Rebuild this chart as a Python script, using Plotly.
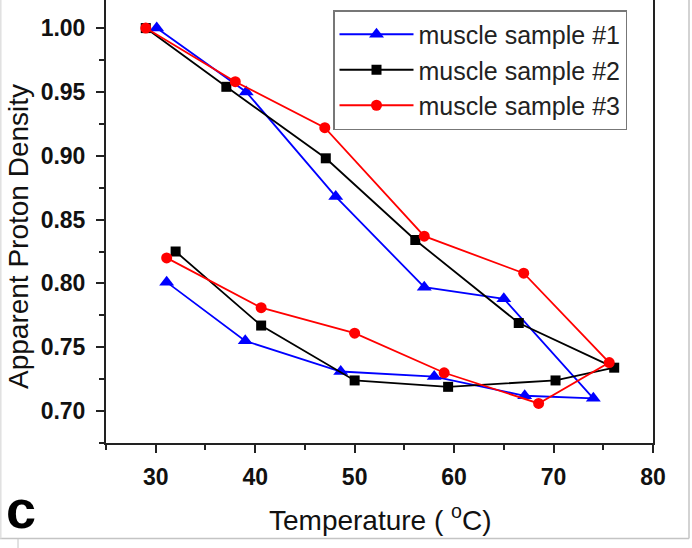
import plotly.graph_objects as go

# Sample #1 (blue triangles): heating then cooling
s1_temp = [30.1, 39.1, 48.1, 57.0, 65.0, 74.0, 67.1, 58.0, 48.6, 39.0, 31.1]
s1_dens = [1.000, 0.950, 0.868, 0.797, 0.788, 0.710, 0.712, 0.727, 0.731, 0.755, 0.801]

# Sample #2 (black squares)
s2_temp = [29.0, 37.1, 47.1, 56.1, 66.5, 76.1, 70.2, 59.4, 50.0, 40.6, 32.0]
s2_dens = [1.000, 0.954, 0.898, 0.834, 0.769, 0.734, 0.724, 0.719, 0.724, 0.767, 0.825]

# Sample #3 (red circles)
s3_temp = [29.0, 38.0, 47.0, 57.0, 67.0, 75.6, 68.5, 59.0, 50.0, 40.6, 31.1]
s3_dens = [1.000, 0.958, 0.922, 0.837, 0.808, 0.738, 0.706, 0.730, 0.761, 0.781, 0.820]

names = ["muscle sample #1", "muscle sample #2", "muscle sample #3"]
x_ticks = [30, 40, 50, 60, 70, 80]
y_ticks = [0.70, 0.75, 0.80, 0.85, 0.90, 0.95, 1.00]

FONT = "Liberation Sans, Arial, sans-serif"
PW, PH = 547, 443   # plot area size in px
L, T = 106, 0       # plot area offset

def px(x):
    return (x - L) / PW

def py(y):
    return 1 - (y - T) / PH

fig = go.Figure()
series = [
    (s1_temp, s1_dens, names[0], "#0000ff", "triangle-up", 13),
    (s2_temp, s2_dens, names[1], "#000000", "square", 10),
    (s3_temp, s3_dens, names[2], "#ff0000", "circle", 11),
]
for xs, ys, nm, col, sym, sz in series:
    fig.add_trace(go.Scatter(
        x=xs, y=ys, name=nm, mode="lines+markers",
        line=dict(color=col, width=1.8),
        marker=dict(color=col, symbol=sym, size=sz),
    ))

fig.update_layout(
    width=692, height=548,
    margin=dict(l=106, r=39, t=0, b=105),
    paper_bgcolor="white", plot_bgcolor="white",
    font=dict(family=FONT, color="#111111"),
    showlegend=True,
    legend=dict(
        x=px(333), y=py(10), xanchor="left", yanchor="top",
        bordercolor="#777777", borderwidth=1.5, bgcolor="white",
        font=dict(size=25, family=FONT, color="#222222"),
        tracegroupgap=0, itemwidth=74,
    ),
    xaxis=dict(
        range=[25, 80], tickvals=x_ticks, ticktext=[str(v) for v in x_ticks],
        showgrid=False, zeroline=False,
        showline=True, linecolor="#222222", linewidth=2,
        ticks="outside", ticklen=8, tickwidth=2, tickcolor="#222222",
        minor=dict(dtick=5, ticks="outside", ticklen=5, tickwidth=1.5, tickcolor="#222222"),
        tickfont=dict(size=23, family=FONT, color="#111111", weight="bold"),
        ticklabelstandoff=4,
    ),
    yaxis=dict(
        range=[0.675, 1.022], tickvals=y_ticks, ticktext=[f"{v:.2f}" for v in y_ticks],
        showgrid=False, zeroline=False,
        showline=True, linecolor="#222222", linewidth=2, mirror=True,
        ticks="outside", ticklen=8, tickwidth=2, tickcolor="#222222",
        minor=dict(dtick=0.025, ticks="outside", ticklen=5, tickwidth=1.5, tickcolor="#222222"),
        tickfont=dict(size=23, family=FONT, color="#111111", weight="bold"),
        ticklabelstandoff=6,
    ),
)

fig.add_annotation(text="Apparent Proton Density", xref="paper", yref="paper",
                   x=px(18), y=py(237), xanchor="center", yanchor="middle",
                   textangle=-90, showarrow=False,
                   font=dict(size=28, family=FONT, color="#111111"))
fig.add_annotation(text="Temperature ( <sup>o</sup>C)", xref="paper", yref="paper",
                   x=px(380), y=py(518), xanchor="center", yanchor="middle",
                   showarrow=False,
                   font=dict(size=28, family=FONT, color="#111111"))
fig.add_annotation(text="<b>c</b>", xref="paper", yref="paper",
                   x=px(21), y=py(509), xanchor="center", yanchor="middle",
                   showarrow=False,
                   font=dict(size=54, family=FONT, color="#000000"))

# light gray frame of the cropped figure
gray = dict(color="#c4c4c4", width=1.5)
fig.add_shape(type="line", xref="paper", yref="paper",
              x0=px(0), x1=px(689), y0=py(538.5), y1=py(538.5), line=gray)
fig.add_shape(type="line", xref="paper", yref="paper",
              x0=px(689), x1=px(689), y0=py(538.5), y1=py(0), line=gray)
fig.add_shape(type="line", xref="paper", yref="paper",
              x0=px(0.8), x1=px(0.8), y0=py(538.5), y1=py(0), line=dict(color="#e0e0e0", width=1.5))
fig.add_shape(type="line", xref="paper", yref="paper",
              x0=px(18), x1=px(18), y0=py(538.5), y1=py(548), line=dict(color="#c4c4c4", width=1))

fig.write_html("out.html", config={"displayModeBar": False},
               post_script="document.body.style.margin='0';document.body.style.overflow='hidden';")
